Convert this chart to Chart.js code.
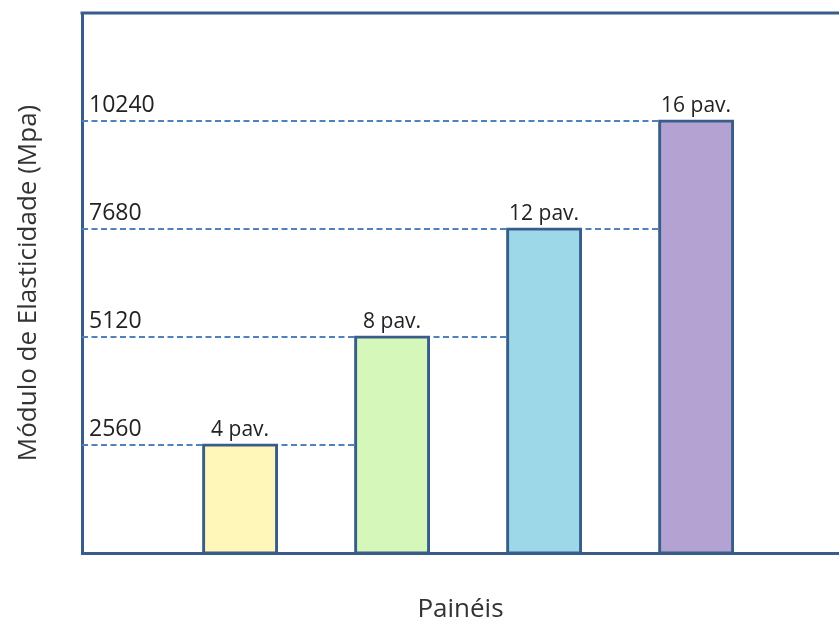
<!DOCTYPE html>
<html>
<head>
<meta charset="utf-8">
<script src="https://cdn.jsdelivr.net/npm/chart.js@4.4.0/dist/chart.umd.min.js"></script>
<style>
    html, body { margin: 0; padding: 0; background: #fff; overflow: hidden; }
</style>
</head>
<body>
<canvas id="modulusChart" width="839" height="625"></canvas>
<script>
// ===== CHART DATA =====
const categories = ['4 pav.', '8 pav.', '12 pav.', '16 pav.'];
const modulusValues = [2560, 5120, 7680, 10240];
const tickValues = [2560, 5120, 7680, 10240];
const barColors = ['#FFF7BA', '#D5F7B9', '#9DD8E9', '#B4A3D2'];
const yTitle = 'Módulo de Elasticidade (Mpa)';
const xTitle = 'Painéis';
const yMax = 12800;

const frameColor = '#385D8A';
const dashColor = '#4F81BD';
const textColor = '#222';

Chart.defaults.font.family = "'Open Sans', sans-serif";

// Dashed guides (behind bars, each runs up to the next bar), labels and top frame line
const decorations = {
    id: 'decorations',
    beforeDatasetsDraw(chart) {
        const { ctx, chartArea, scales } = chart;
        const bars = chart.getDatasetMeta(0).data;
        ctx.save();
        ctx.strokeStyle = dashColor;
        ctx.lineWidth = 1.8;
        ctx.setLineDash([6, 3.5]);
        modulusValues.forEach((v, i) => {
            const y = scales.y.getPixelForValue(v);
            const next = bars[Math.min(i + 1, bars.length - 1)];
            ctx.beginPath();
            ctx.moveTo(chartArea.left, y);
            ctx.lineTo(next.x - next.width / 2, y);
            ctx.stroke();
        });
        ctx.restore();
    },
    afterDatasetsDraw(chart) {
        const { ctx, chartArea } = chart;
        const bars = chart.getDatasetMeta(0).data;
        ctx.save();
        ctx.fillStyle = textColor;
        ctx.font = "21px 'Open Sans', sans-serif";
        ctx.textAlign = 'center';
        ctx.textBaseline = 'alphabetic';
        bars.forEach((bar, i) => {
            ctx.fillText(categories[i], bar.x, bar.y - 9);
        });
        // top edge of the frame
        ctx.strokeStyle = frameColor;
        ctx.lineWidth = 3;
        ctx.beginPath();
        ctx.moveTo(chartArea.left - 1.5, chartArea.top);
        ctx.lineTo(chartArea.right, chartArea.top);
        ctx.stroke();
        ctx.restore();
    }
};

const modulusChart = new Chart(document.getElementById('modulusChart'), {
    type: 'bar',
    data: {
        datasets: [{
            label: 'Módulo',
            data: modulusValues.map((v, i) => ({ x: i + 1, y: v })),
            backgroundColor: barColors,
            borderColor: frameColor,
            borderWidth: 3,
            borderSkipped: false,
            barThickness: 73,
            inflateAmount: 1.5,
            clip: false
        }]
    },
    options: {
        responsive: false,
        animation: false,
        devicePixelRatio: 1,
        layout: { padding: { left: 0, top: 13, right: 0, bottom: 0 } },
        plugins: {
            legend: { display: false },
            tooltip: { enabled: false }
        },
        scales: {
            x: {
                type: 'linear',
                offset: false,
                min: -0.04,
                max: 4.94,
                ticks: { display: false },
                grid: { display: false, drawTicks: false, offset: false },
                border: { display: true, color: frameColor, width: 3 },
                title: {
                    display: true,
                    text: xTitle,
                    color: '#333',
                    font: { size: 26 },
                    padding: { top: 40.8, bottom: 0 }
                }
            },
            y: {
                type: 'linear',
                min: 0,
                max: yMax,
                afterBuildTicks: (scale) => {
                    scale.ticks = tickValues.map(v => ({ value: v }));
                },
                afterFit: (scale) => {
                    scale.paddingTop = 0;
                    scale.paddingBottom = 0;
                },
                ticks: {
                    mirror: true,
                    padding: 7,
                    labelOffset: -16,
                    color: textColor,
                    font: { size: 23 },
                    callback: (v) => String(v)
                },
                grid: { display: false, drawTicks: false },
                border: { display: true, color: frameColor, width: 3 },
                title: {
                    display: true,
                    text: yTitle,
                    color: '#333',
                    font: { size: 26 },
                    padding: { top: 13.4, bottom: 23.4 }
                }
            }
        }
    },
    plugins: [decorations]
});
</script>
</body>
</html>
